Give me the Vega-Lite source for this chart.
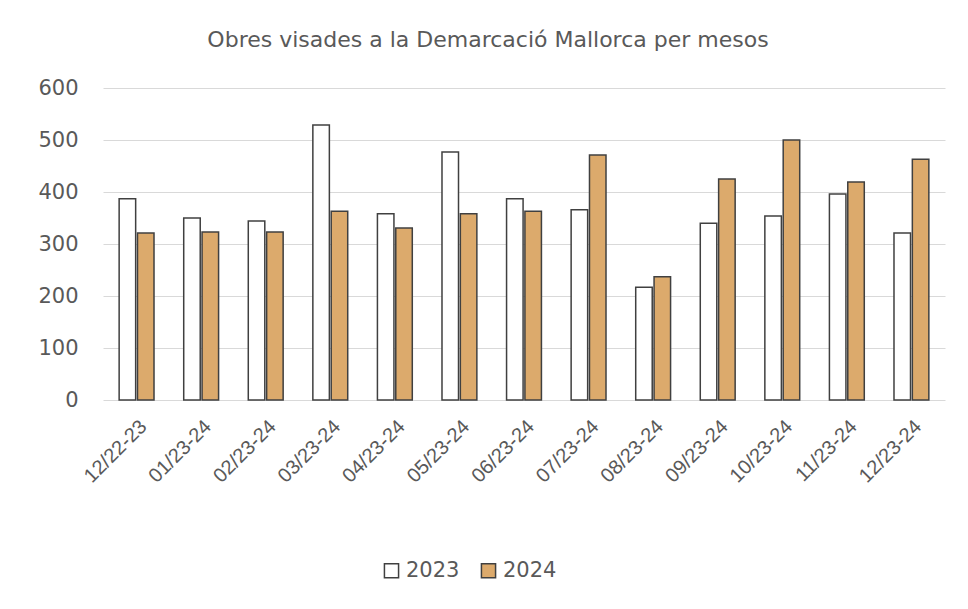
{
  "$schema": "https://vega.github.io/schema/vega-lite/v6.json",
  "autosize": "none",
  "width": 842,
  "height": 312,
  "padding": {"left": 103, "top": 88, "right": 23, "bottom": 209},
  "background": "white",
  "title": {
    "text": "Obres visades a la Demarcació Mallorca per mesos",
    "font": "DejaVu Sans",
    "fontSize": 22,
    "fontWeight": "normal",
    "color": "#595959",
    "anchor": "middle",
    "dx": -36,
    "offset": 25
  },
  "data": {
    "values": [
      {"mes": "12/22-23", "any": "2023", "obres": 387},
      {"mes": "12/22-23", "any": "2024", "obres": 321},
      {"mes": "01/23-24", "any": "2023", "obres": 350},
      {"mes": "01/23-24", "any": "2024", "obres": 323},
      {"mes": "02/23-24", "any": "2023", "obres": 344},
      {"mes": "02/23-24", "any": "2024", "obres": 323},
      {"mes": "03/23-24", "any": "2023", "obres": 529},
      {"mes": "03/23-24", "any": "2024", "obres": 363},
      {"mes": "04/23-24", "any": "2023", "obres": 358},
      {"mes": "04/23-24", "any": "2024", "obres": 331},
      {"mes": "05/23-24", "any": "2023", "obres": 477},
      {"mes": "05/23-24", "any": "2024", "obres": 358},
      {"mes": "06/23-24", "any": "2023", "obres": 387},
      {"mes": "06/23-24", "any": "2024", "obres": 363},
      {"mes": "07/23-24", "any": "2023", "obres": 366},
      {"mes": "07/23-24", "any": "2024", "obres": 471},
      {"mes": "08/23-24", "any": "2023", "obres": 217},
      {"mes": "08/23-24", "any": "2024", "obres": 237},
      {"mes": "09/23-24", "any": "2023", "obres": 340},
      {"mes": "09/23-24", "any": "2024", "obres": 425},
      {"mes": "10/23-24", "any": "2023", "obres": 354},
      {"mes": "10/23-24", "any": "2024", "obres": 500},
      {"mes": "11/23-24", "any": "2023", "obres": 396},
      {"mes": "11/23-24", "any": "2024", "obres": 419},
      {"mes": "12/23-24", "any": "2023", "obres": 321},
      {"mes": "12/23-24", "any": "2024", "obres": 463}
    ]
  },
  "mark": {"type": "bar", "stroke": "#404040", "strokeWidth": 1.5},
  "encoding": {
    "x": {
      "field": "mes",
      "type": "nominal",
      "sort": null,
      "scale": {"paddingInner": 0.46, "paddingOuter": 0.25},
      "axis": {
        "title": null,
        "labelAngle": -45,
        "labelFont": "Liberation Sans",
        "labelFontSize": 20,
        "labelColor": "#595959",
        "ticks": false,
        "domain": false,
        "labelPadding": 16
      }
    },
    "xOffset": {"field": "any", "type": "nominal", "scale": {"paddingInner": 0.1}},
    "y": {
      "field": "obres",
      "type": "quantitative",
      "scale": {"domain": [0, 600]},
      "axis": {
        "title": null,
        "values": [0, 100, 200, 300, 400, 500, 600],
        "labelFont": "DejaVu Sans",
        "labelFontSize": 21,
        "labelColor": "#595959",
        "ticks": false,
        "domain": false,
        "labelPadding": 25,
        "gridColor": "#d9d9d9",
        "gridWidth": 1.2
      }
    },
    "fill": {
      "field": "any",
      "type": "nominal",
      "scale": {"domain": ["2023", "2024"], "range": ["#ffffff", "#dcaa6c"]},
      "legend": {
        "title": null,
        "orient": "none",
        "direction": "horizontal",
        "legendX": 278,
        "legendY": 472,
        "symbolType": "square",
        "symbolSize": 200,
        "symbolStrokeColor": "#404040",
        "symbolStrokeWidth": 1.5,
        "labelFont": "DejaVu Sans",
        "labelFontSize": 21,
        "labelColor": "#595959",
        "columnPadding": 18,
        "labelOffset": 4
      }
    }
  },
  "config": {
    "view": {"stroke": null}
  }
}
